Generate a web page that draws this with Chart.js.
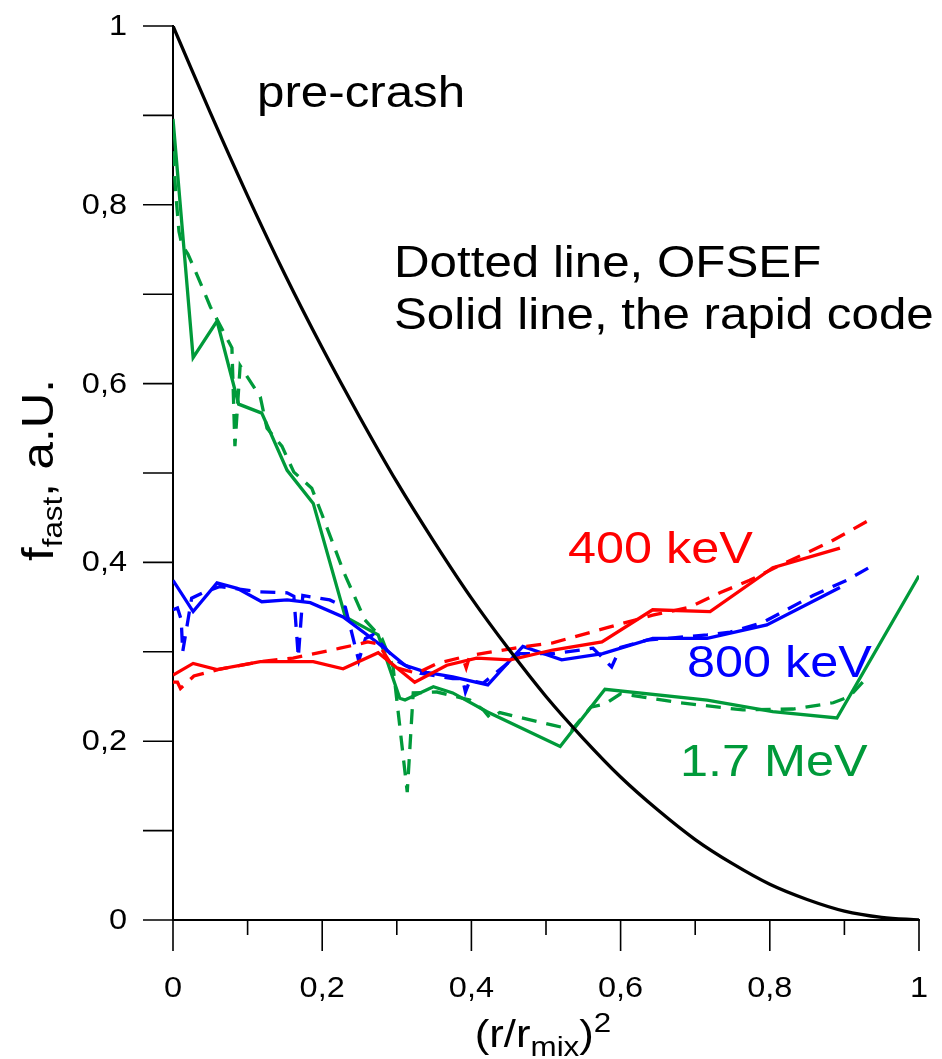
<!DOCTYPE html>
<html>
<head>
<meta charset="utf-8">
<script src="https://cdn.jsdelivr.net/npm/chart.js@4.4.1/dist/chart.umd.min.js"></script>
<style>
  html, body { margin: 0; padding: 0; background: #ffffff; }
  canvas { display: block; }
</style>
</head>
<body>
<canvas id="chart" width="942" height="1059"></canvas>
<script>
// ---- profile data: x = (r/r_mix)^2, y = f_fast (a.u.) ----
const xPreCrash = [0, 0.05, 0.1, 0.15, 0.2, 0.25, 0.3, 0.35, 0.4, 0.45, 0.5, 0.55, 0.6, 0.65, 0.7, 0.75, 0.8, 0.85, 0.9, 0.95, 1];
const yPreCrash = [1, 0.903, 0.81, 0.722, 0.64, 0.563, 0.49, 0.423, 0.36, 0.303, 0.25, 0.203, 0.16, 0.123, 0.09, 0.063, 0.04, 0.023, 0.01, 0.003, 0];

// 400 keV
const x400Rapid = [0, 0.027, 0.059, 0.117, 0.188, 0.228, 0.275, 0.324, 0.367, 0.407, 0.452, 0.509, 0.575, 0.643, 0.72, 0.804, 0.894];
const y400Rapid = [0.274, 0.287, 0.280, 0.289, 0.289, 0.281, 0.299, 0.266, 0.285, 0.293, 0.291, 0.302, 0.311, 0.347, 0.345, 0.394, 0.416];
const x400Ofsef = [0, 0.006, 0.01, 0.028, 0.06, 0.117, 0.161, 0.224, 0.261, 0.275, 0.295, 0.327, 0.354, 0.388, 0.393, 0.398, 0.421, 0.465, 0.509, 0.582, 0.643, 0.693, 0.733, 0.773, 0.814, 0.881, 0.937];
const y400Ofsef = [0.266, 0.266, 0.259, 0.273, 0.280, 0.289, 0.293, 0.304, 0.311, 0.309, 0.283, 0.276, 0.287, 0.294, 0.282, 0.296, 0.299, 0.305, 0.310, 0.327, 0.341, 0.350, 0.366, 0.380, 0.397, 0.423, 0.449];

// 800 keV
const x800Rapid = [0, 0.027, 0.059, 0.086, 0.119, 0.153, 0.184, 0.228, 0.273, 0.311, 0.340, 0.375, 0.422, 0.469, 0.521, 0.576, 0.643, 0.716, 0.796, 0.894];
const y800Rapid = [0.380, 0.345, 0.377, 0.371, 0.356, 0.358, 0.355, 0.339, 0.311, 0.285, 0.277, 0.272, 0.263, 0.306, 0.291, 0.298, 0.315, 0.315, 0.330, 0.372];
const x800Ofsef = [0, 0.006, 0.011, 0.013, 0.025, 0.04, 0.063, 0.117, 0.153, 0.162, 0.168, 0.174, 0.21, 0.231, 0.249, 0.258, 0.268, 0.3, 0.331, 0.375, 0.388, 0.392, 0.398, 0.416, 0.448, 0.465, 0.51, 0.563, 0.588, 0.6, 0.635, 0.716, 0.747, 0.791, 0.858, 0.903, 0.937];
const y800Ofsef = [0.347, 0.349, 0.336, 0.300, 0.360, 0.366, 0.373, 0.367, 0.366, 0.362, 0.294, 0.363, 0.358, 0.350, 0.290, 0.315, 0.319, 0.290, 0.276, 0.270, 0.270, 0.255, 0.268, 0.265, 0.287, 0.298, 0.298, 0.304, 0.283, 0.305, 0.313, 0.319, 0.322, 0.333, 0.363, 0.380, 0.396];

// 1.7 MeV
const x1700Rapid = [0, 0.027, 0.059, 0.088, 0.119, 0.153, 0.188, 0.231, 0.275, 0.304, 0.311, 0.349, 0.375, 0.421, 0.519, 0.579, 0.716, 0.804, 0.89, 1.0];
const y1700Rapid = [0.896, 0.629, 0.670, 0.577, 0.567, 0.503, 0.466, 0.339, 0.319, 0.248, 0.246, 0.261, 0.254, 0.233, 0.194, 0.258, 0.246, 0.233, 0.226, 0.385];
const x1700Ofsef = [0, 0.004, 0.008, 0.012, 0.02, 0.033, 0.05, 0.079, 0.083, 0.09, 0.117, 0.126, 0.146, 0.162, 0.186, 0.2, 0.229, 0.257, 0.28, 0.295, 0.314, 0.322, 0.354, 0.398, 0.416, 0.425, 0.438, 0.509, 0.535, 0.56, 0.58, 0.6, 0.68, 0.764, 0.831, 0.885, 0.907, 0.93];
const y1700Ofsef = [0.860, 0.810, 0.770, 0.755, 0.745, 0.720, 0.686, 0.640, 0.530, 0.620, 0.585, 0.550, 0.530, 0.501, 0.483, 0.453, 0.389, 0.336, 0.315, 0.283, 0.143, 0.254, 0.255, 0.246, 0.235, 0.226, 0.232, 0.218, 0.213, 0.238, 0.242, 0.253, 0.243, 0.235, 0.236, 0.243, 0.250, 0.271];

// axis ticks and labels
const xTickValues = [0, 0.1, 0.2, 0.3, 0.4, 0.5, 0.6, 0.7, 0.8, 0.9, 1];
const xTickLabels = ['0', '', '0,2', '', '0,4', '', '0,6', '', '0,8', '', '1'];
const yTickValues = [0, 0.1, 0.2, 0.3, 0.4, 0.5, 0.6, 0.7, 0.8, 0.9, 1];
const yTickLabels = ['0', '', '0,2', '', '0,4', '', '0,6', '', '0,8', '', '1'];

const RED = '#ff0000';
const BLUE = '#0000ff';
const GREEN = '#009a3a';
const FONT = '"Liberation Sans", Arial, Helvetica, sans-serif';
const SX = 1.12; // horizontal widening used for all lettering

function pts(xs, ys) { return xs.map((x, i) => ({ x: x, y: ys[i] })); }

function series(label, xs, ys, color, dashed, smooth) {
  return {
    label: label,
    data: pts(xs, ys),
    borderColor: color,
    backgroundColor: color,
    borderWidth: 3.3,
    borderDash: dashed ? [15, 10] : [],
    pointRadius: 0,
    tension: smooth ? 0.35 : 0,
    fill: false,
    borderJoinStyle: 'miter',
    borderCapStyle: 'butt'
  };
}

function text(ctx, s, x, y, size, color, align, baseline) {
  ctx.save();
  ctx.font = size + 'px ' + FONT;
  ctx.fillStyle = color;
  ctx.textAlign = align || 'left';
  ctx.textBaseline = baseline || 'alphabetic';
  ctx.translate(x, y);
  ctx.scale(SX, 1);
  ctx.fillText(s, 0, 0);
  ctx.restore();
}

function width(ctx, s, size) {
  ctx.save();
  ctx.font = size + 'px ' + FONT;
  const w = ctx.measureText(s).width * SX;
  ctx.restore();
  return w;
}

const decorations = {
  id: 'decorations',
  afterDraw(chart) {
    const ctx = chart.ctx;
    const xs = chart.scales.x;
    const ys = chart.scales.y;
    const axisY = ys.getPixelForValue(0);
    const axisX = xs.getPixelForValue(0);

    // tick marks
    ctx.save();
    ctx.strokeStyle = '#000';
    ctx.lineWidth = 1.6;
    ctx.beginPath();
    xTickValues.forEach((v, i) => {
      const px = xs.getPixelForValue(v);
      const len = xTickLabels[i] ? 31 : 15;
      ctx.moveTo(px, axisY);
      ctx.lineTo(px, axisY + len);
    });
    yTickValues.forEach((v) => {
      const py = ys.getPixelForValue(v);
      ctx.moveTo(axisX, py);
      ctx.lineTo(axisX - 30, py);
    });
    ctx.stroke();
    ctx.restore();

    // tick labels
    xTickValues.forEach((v, i) => {
      if (xTickLabels[i]) text(ctx, xTickLabels[i], xs.getPixelForValue(v), 997, 29, '#000', 'center');
    });
    yTickValues.forEach((v, i) => {
      if (yTickLabels[i]) text(ctx, yTickLabels[i], 127, ys.getPixelForValue(v) + 1, 29, '#000', 'right', 'middle');
    });

    // x axis title: (r/r_mix)^2
    {
      const big = 39, small = 28;
      const parts = [['(r/r', big, 0], ['mix', small, 9], [')', big, 0], ['2', small, -15]];
      let total = 0;
      parts.forEach(p => { total += width(ctx, p[0], p[1]); });
      let x = 543 - total / 2;
      parts.forEach(p => {
        text(ctx, p[0], x, 1047 + p[2], p[1], '#000', 'left');
        x += width(ctx, p[0], p[1]);
      });
    }

    // y axis title: f_fast, a.U.  (rotated, reads bottom to top)
    {
      const big = 44, small = 28;
      ctx.save();
      ctx.translate(53, 561);
      ctx.rotate(-Math.PI / 2);
      ctx.scale(SX, 1);
      ctx.fillStyle = '#000';
      let x = 0;
      const parts = [['f', big, 0], ['fast', small, 9], [', a.U.', big, 0]];
      parts.forEach(p => {
        ctx.font = p[1] + 'px ' + FONT;
        ctx.fillText(p[0], x, p[2]);
        x += ctx.measureText(p[0]).width;
      });
      ctx.restore();
    }

    // annotations
    text(ctx, 'pre-crash', 257, 107, 44, '#000');
    text(ctx, 'Dotted line, OFSEF', 394, 277, 44, '#000');
    text(ctx, 'Solid line, the rapid code', 394, 329, 44, '#000');
    text(ctx, '400 keV', 568, 563, 45, RED);
    text(ctx, '800 keV', 687, 677, 45, BLUE);
    text(ctx, '1.7 MeV', 680, 776, 45, GREEN);
  }
};

new Chart(document.getElementById('chart'), {
  type: 'line',
  data: {
    datasets: [
      series('pre-crash', xPreCrash, yPreCrash, '#000000', false, true),
      series('400 keV rapid code', x400Rapid, y400Rapid, RED, false),
      series('400 keV OFSEF', x400Ofsef, y400Ofsef, RED, true),
      series('800 keV rapid code', x800Rapid, y800Rapid, BLUE, false),
      series('800 keV OFSEF', x800Ofsef, y800Ofsef, BLUE, true),
      series('1.7 MeV rapid code', x1700Rapid, y1700Rapid, GREEN, false),
      series('1.7 MeV OFSEF', x1700Ofsef, y1700Ofsef, GREEN, true)
    ]
  },
  options: {
    responsive: false,
    animation: false,
    devicePixelRatio: 1,
    layout: { padding: { top: 26, right: 23, left: 0, bottom: 0 } },
    plugins: { legend: { display: false }, tooltip: { enabled: false } },
    scales: {
      x: {
        type: 'linear', min: 0, max: 1,
        grid: { display: false, drawTicks: false },
        border: { display: true, color: '#000', width: 2 },
        ticks: { display: false },
        afterFit(scale) { scale.height = 139; }
      },
      y: {
        type: 'linear', min: 0, max: 1,
        grid: { display: false, drawTicks: false },
        border: { display: true, color: '#000', width: 2 },
        ticks: { display: false },
        afterFit(scale) { scale.width = 173; }
      }
    }
  },
  plugins: [decorations]
});
</script>
</body>
</html>
